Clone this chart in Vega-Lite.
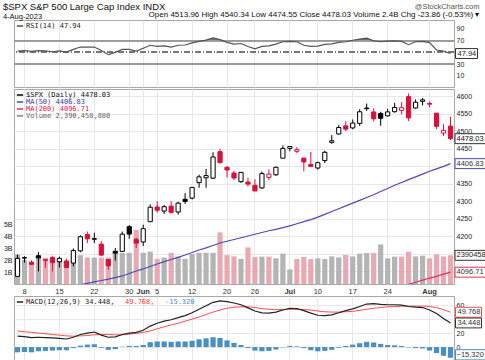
{
"$schema": "https://vega.github.io/schema/vega-lite/v6.json",
"padding": {"top": 2, "left": 2, "right": 2, "bottom": 0},
"background": "white",
"config": {
  "font": "Liberation Sans",
  "view": {"stroke": "#a8a8a8"},
  "axis": {"labelFontSize": 7, "labelColor": "#222", "ticks": false, "domain": false, "labelPadding": 2, "gridColor": "#e8e8e8", "gridWidth": 1, "title": null, "labelOverlap": false, "labelAngle": 0},
  "legend": {"orient": "top-left", "offset": 2, "padding": 0, "rowPadding": 0, "labelFont": "DejaVu Sans Mono", "labelFontSize": 7, "labelColor": "#222", "symbolType": "stroke", "symbolSize": 40, "symbolStrokeWidth": 1.5, "labelOffset": 2}
},
"title": {"text": "$SPX S&P 500 Large Cap Index INDX", "subtitle": "4-Aug-2023", "anchor": "start", "frame": "bounds", "offset": -18, "fontSize": 9.5, "fontWeight": "normal", "subtitleFontSize": 7.5, "subtitlePadding": 1, "color": "#111", "subtitleColor": "#111"},
"data": {"values": [
{"d":"2023-05-05","o":4084.73,"h":4147.02,"l":4084.73,"c":4136.25,"dir":"up","v":2.47,"ma50":4033,"rsi":52,"ob":70,"macd":15.5,"sig":23,"hist":-7.5},
{"d":"2023-05-08","o":4136.98,"h":4142.30,"l":4123.81,"c":4138.12,"dir":"up","v":2.0,"ma50":4036,"rsi":53,"ob":70,"macd":15,"sig":22,"hist":-7},
{"d":"2023-05-09","o":4124.25,"h":4130.35,"l":4116.65,"c":4119.17,"dir":"down","v":1.9,"ma50":4039,"rsi":51.5,"ob":70,"macd":13.5,"sig":21,"hist":-7.5},
{"d":"2023-05-10","o":4143.74,"h":4154.28,"l":4098.92,"c":4137.64,"dir":"up","v":2.3,"ma50":4041,"rsi":53,"ob":70,"macd":14,"sig":20,"hist":-6},
{"d":"2023-05-11","o":4132.24,"h":4132.80,"l":4109.29,"c":4130.62,"dir":"down","v":2.2,"ma50":4044,"rsi":52.5,"ob":70,"macd":13.5,"sig":19,"hist":-5.5},
{"d":"2023-05-12","o":4138.54,"h":4143.74,"l":4099.12,"c":4124.08,"dir":"down","v":1.9,"ma50":4047,"rsi":51,"ob":70,"macd":13,"sig":18,"hist":-5},
{"d":"2023-05-15","o":4126.65,"h":4141.25,"l":4110.27,"c":4136.28,"dir":"up","v":1.9,"ma50":4050,"rsi":52.5,"ob":70,"macd":12.5,"sig":17,"hist":-4.5},
{"d":"2023-05-16","o":4127.95,"h":4135.54,"l":4109.86,"c":4109.90,"dir":"down","v":2.0,"ma50":4053,"rsi":50.5,"ob":70,"macd":11.5,"sig":16,"hist":-4.5},
{"d":"2023-05-17","o":4122.85,"h":4164.67,"l":4113.62,"c":4158.77,"dir":"up","v":2.4,"ma50":4057,"rsi":55,"ob":70,"macd":14,"sig":15.5,"hist":-1.5},
{"d":"2023-05-18","o":4157.68,"h":4202.20,"l":4153.50,"c":4198.05,"dir":"up","v":2.4,"ma50":4061,"rsi":59,"ob":70,"macd":18,"sig":16,"hist":2},
{"d":"2023-05-19","o":4204.15,"h":4212.91,"l":4180.20,"c":4191.98,"dir":"down","v":2.2,"ma50":4065,"rsi":59,"ob":70,"macd":20,"sig":16.5,"hist":3.5},
{"d":"2023-05-22","o":4190.78,"h":4209.22,"l":4179.68,"c":4192.63,"dir":"up","v":2.2,"ma50":4069,"rsi":59,"ob":70,"macd":21.5,"sig":17.5,"hist":4},
{"d":"2023-05-23","o":4176.80,"h":4185.68,"l":4142.54,"c":4145.58,"dir":"down","v":2.2,"ma50":4073,"rsi":53,"ob":70,"macd":17,"sig":18,"hist":-1},
{"d":"2023-05-24","o":4132.96,"h":4132.96,"l":4103.98,"c":4115.24,"dir":"down","v":2.2,"ma50":4077,"rsi":46,"ob":70,"macd":14,"sig":18,"hist":-4},
{"d":"2023-05-25","o":4155.71,"h":4165.74,"l":4129.73,"c":4151.28,"dir":"up","v":2.8,"ma50":4081,"rsi":50,"ob":70,"macd":14.5,"sig":17.5,"hist":-3},
{"d":"2023-05-26","o":4156.16,"h":4212.87,"l":4156.16,"c":4205.45,"dir":"up","v":2.6,"ma50":4086,"rsi":55,"ob":70,"macd":18,"sig":17.5,"hist":0.5},
{"d":"2023-05-30","o":4226.71,"h":4231.10,"l":4192.18,"c":4205.52,"dir":"up","v":2.6,"ma50":4093,"rsi":55,"ob":70,"macd":20,"sig":18.5,"hist":1.5},
{"d":"2023-05-31","o":4190.74,"h":4195.44,"l":4166.15,"c":4179.83,"dir":"down","v":4.5,"ma50":4100,"rsi":52,"ob":70,"macd":21,"sig":19.5,"hist":1.5},
{"d":"2023-06-01","o":4183.03,"h":4232.43,"l":4171.64,"c":4221.02,"dir":"up","v":2.6,"ma50":4106,"rsi":57,"ob":70,"macd":24,"sig":21,"hist":3},
{"d":"2023-06-02","o":4241.01,"h":4290.67,"l":4241.01,"c":4282.37,"dir":"up","v":2.7,"ma50":4113,"rsi":62,"ob":70,"macd":30,"sig":23,"hist":7},
{"d":"2023-06-05","o":4282.99,"h":4299.28,"l":4266.82,"c":4273.79,"dir":"down","v":2.1,"ma50":4120,"rsi":60,"ob":70,"macd":34,"sig":26,"hist":8},
{"d":"2023-06-06","o":4271.34,"h":4288.33,"l":4263.09,"c":4283.85,"dir":"up","v":2.2,"ma50":4127,"rsi":61,"ob":70,"macd":37,"sig":29,"hist":8},
{"d":"2023-06-07","o":4285.47,"h":4299.19,"l":4263.96,"c":4267.52,"dir":"down","v":2.6,"ma50":4133,"rsi":59,"ob":70,"macd":39,"sig":31.5,"hist":7.5},
{"d":"2023-06-08","o":4268.69,"h":4298.01,"l":4261.07,"c":4293.93,"dir":"up","v":2.3,"ma50":4139,"rsi":62,"ob":70,"macd":42,"sig":34,"hist":8},
{"d":"2023-06-09","o":4304.88,"h":4322.62,"l":4291.70,"c":4298.86,"dir":"up","v":2.1,"ma50":4146,"rsi":62.5,"ob":70,"macd":45,"sig":37,"hist":8},
{"d":"2023-06-12","o":4308.32,"h":4340.13,"l":4304.37,"c":4338.93,"dir":"up","v":2.5,"ma50":4153,"rsi":66,"ob":70,"macd":49,"sig":40,"hist":9},
{"d":"2023-06-13","o":4352.61,"h":4375.37,"l":4337.66,"c":4369.01,"dir":"up","v":2.6,"ma50":4160,"rsi":68.5,"ob":70,"macd":54,"sig":43,"hist":11},
{"d":"2023-06-14","o":4366.29,"h":4391.82,"l":4337.85,"c":4372.59,"dir":"up","v":2.6,"ma50":4166,"rsi":70.8,"ob":70.8,"macd":59,"sig":46.5,"hist":12.5},
{"d":"2023-06-15","o":4365.33,"h":4439.20,"l":4362.60,"c":4425.84,"dir":"up","v":2.6,"ma50":4173,"rsi":74.5,"ob":74.5,"macd":64,"sig":50,"hist":14},
{"d":"2023-06-16","o":4440.95,"h":4448.47,"l":4407.44,"c":4409.59,"dir":"down","v":4.3,"ma50":4180,"rsi":71.5,"ob":71.5,"macd":66,"sig":53,"hist":13},
{"d":"2023-06-20","o":4396.11,"h":4400.15,"l":4367.19,"c":4388.71,"dir":"down","v":2.4,"ma50":4185,"rsi":67,"ob":70,"macd":65,"sig":55.5,"hist":9.5},
{"d":"2023-06-21","o":4380.01,"h":4386.22,"l":4360.14,"c":4365.69,"dir":"down","v":2.3,"ma50":4190,"rsi":64,"ob":70,"macd":63,"sig":57,"hist":6},
{"d":"2023-06-22","o":4355.40,"h":4382.25,"l":4351.82,"c":4381.89,"dir":"up","v":2.1,"ma50":4195,"rsi":65,"ob":70,"macd":60.5,"sig":57.5,"hist":3},
{"d":"2023-06-23","o":4354.17,"h":4366.55,"l":4341.34,"c":4348.33,"dir":"down","v":3.05,"ma50":4200,"rsi":60,"ob":70,"macd":56,"sig":57.5,"hist":-1.5},
{"d":"2023-06-26","o":4344.84,"h":4362.06,"l":4328.08,"c":4328.82,"dir":"down","v":2.25,"ma50":4205,"rsi":56,"ob":70,"macd":51.5,"sig":56.5,"hist":-5},
{"d":"2023-06-27","o":4337.36,"h":4384.42,"l":4335.00,"c":4378.41,"dir":"up","v":2.28,"ma50":4210,"rsi":60,"ob":70,"macd":49,"sig":55,"hist":-6},
{"d":"2023-06-28","o":4367.48,"h":4390.35,"l":4360.22,"c":4376.86,"dir":"down","v":2.28,"ma50":4215,"rsi":61,"ob":70,"macd":48.5,"sig":54,"hist":-5.5},
{"d":"2023-06-29","o":4374.94,"h":4398.39,"l":4371.97,"c":4396.44,"dir":"up","v":2.14,"ma50":4219,"rsi":64,"ob":70,"macd":50,"sig":53.5,"hist":-3.5},
{"d":"2023-06-30","o":4422.44,"h":4458.48,"l":4422.44,"c":4450.38,"dir":"up","v":2.53,"ma50":4224,"rsi":68,"ob":70,"macd":53,"sig":53.5,"hist":-0.5},
{"d":"2023-07-03","o":4450.48,"h":4456.46,"l":4442.29,"c":4455.59,"dir":"up","v":1.22,"ma50":4229,"rsi":68.5,"ob":70,"macd":55.5,"sig":54,"hist":1.5},
{"d":"2023-07-05","o":4442.04,"h":4454.06,"l":4436.61,"c":4446.82,"dir":"down","v":2.08,"ma50":4235,"rsi":68,"ob":70,"macd":55,"sig":54,"hist":1},
{"d":"2023-07-06","o":4422.62,"h":4422.62,"l":4385.05,"c":4411.59,"dir":"down","v":2.25,"ma50":4241,"rsi":62,"ob":70,"macd":52,"sig":53.5,"hist":-1.5},
{"d":"2023-07-07","o":4404.54,"h":4440.39,"l":4397.40,"c":4398.95,"dir":"down","v":2.08,"ma50":4247,"rsi":60,"ob":70,"macd":48.5,"sig":53,"hist":-4.5},
{"d":"2023-07-10","o":4394.23,"h":4412.60,"l":4389.92,"c":4409.53,"dir":"up","v":2.14,"ma50":4254,"rsi":60.5,"ob":70,"macd":45.5,"sig":51.5,"hist":-6},
{"d":"2023-07-11","o":4415.55,"h":4443.64,"l":4408.46,"c":4439.26,"dir":"up","v":2.08,"ma50":4262,"rsi":63.5,"ob":70,"macd":45,"sig":50.5,"hist":-5.5},
{"d":"2023-07-12","o":4467.69,"h":4488.34,"l":4463.23,"c":4472.16,"dir":"up","v":2.3,"ma50":4270,"rsi":64.5,"ob":70,"macd":46,"sig":50,"hist":-4},
{"d":"2023-07-13","o":4491.50,"h":4517.38,"l":4489.36,"c":4510.04,"dir":"up","v":2.22,"ma50":4278,"rsi":67,"ob":70,"macd":49,"sig":50,"hist":-1},
{"d":"2023-07-14","o":4514.61,"h":4527.76,"l":4499.56,"c":4505.42,"dir":"down","v":2.42,"ma50":4286,"rsi":68,"ob":70,"macd":52,"sig":50.5,"hist":1.5},
{"d":"2023-07-17","o":4508.86,"h":4532.85,"l":4504.90,"c":4522.79,"dir":"up","v":2.3,"ma50":4294,"rsi":70.5,"ob":70.5,"macd":54.5,"sig":51,"hist":3.5},
{"d":"2023-07-18","o":4521.78,"h":4562.30,"l":4514.59,"c":4554.98,"dir":"up","v":2.53,"ma50":4302,"rsi":72.5,"ob":72.5,"macd":58,"sig":52.5,"hist":5.5},
{"d":"2023-07-19","o":4563.87,"h":4578.43,"l":4557.48,"c":4565.72,"dir":"up","v":2.58,"ma50":4310,"ma200":4027,"rsi":74,"ob":74,"macd":61.5,"sig":54,"hist":7.5},
{"d":"2023-07-20","o":4554.38,"h":4564.74,"l":4527.56,"c":4534.87,"dir":"down","v":2.58,"ma50":4318,"ma200":4033,"rsi":69.5,"ob":70,"macd":62,"sig":55.5,"hist":6.5},
{"d":"2023-07-21","o":4550.16,"h":4555.00,"l":4514.96,"c":4536.34,"dir":"up","v":3.3,"ma50":4327,"ma200":4039,"rsi":68,"ob":70,"macd":61,"sig":56.5,"hist":4.5},
{"d":"2023-07-24","o":4543.39,"h":4563.41,"l":4541.29,"c":4554.64,"dir":"up","v":2.14,"ma50":4336,"ma200":4045,"rsi":69,"ob":70,"macd":60.5,"sig":57.5,"hist":3},
{"d":"2023-07-25","o":4555.19,"h":4580.62,"l":4552.42,"c":4567.46,"dir":"up","v":2.28,"ma50":4345,"ma200":4051,"rsi":69.5,"ob":70,"macd":60.5,"sig":58,"hist":2.5},
{"d":"2023-07-26","o":4558.96,"h":4582.47,"l":4547.58,"c":4566.75,"dir":"down","v":2.28,"ma50":4353,"ma200":4057,"rsi":68.5,"ob":70,"macd":60,"sig":58.5,"hist":1.5},
{"d":"2023-07-27","o":4598.26,"h":4607.07,"l":4528.56,"c":4537.41,"dir":"down","v":2.69,"ma50":4361,"ma200":4062,"rsi":63,"ob":70,"macd":58,"sig":58.5,"hist":-0.5},
{"d":"2023-07-28","o":4565.75,"h":4590.16,"l":4564.01,"c":4582.23,"dir":"up","v":2.3,"ma50":4369,"ma200":4068,"rsi":68,"ob":70,"macd":57,"sig":58.5,"hist":-1.5},
{"d":"2023-07-31","o":4584.82,"h":4594.22,"l":4573.14,"c":4588.96,"dir":"up","v":2.36,"ma50":4377,"ma200":4074,"rsi":68.5,"ob":70,"macd":56.5,"sig":58.5,"hist":-2},
{"d":"2023-08-01","o":4578.83,"h":4584.62,"l":4567.53,"c":4576.73,"dir":"down","v":2.14,"ma50":4385,"ma200":4080,"rsi":66.5,"ob":70,"macd":53,"sig":58,"hist":-5},
{"d":"2023-08-02","o":4550.93,"h":4550.93,"l":4505.75,"c":4513.39,"dir":"down","v":2.47,"ma50":4392,"ma200":4085,"rsi":54,"ob":70,"macd":48,"sig":56.5,"hist":-8.5},
{"d":"2023-08-03","o":4494.27,"h":4519.49,"l":4485.54,"c":4501.89,"dir":"down","v":2.3,"ma50":4399,"ma200":4091,"rsi":52,"ob":70,"macd":41,"sig":53.5,"hist":-12.5},
{"d":"2023-08-04","o":4513.96,"h":4540.34,"l":4474.55,"c":4478.03,"dir":"down","v":2.39,"ma50":4406.83,"ma200":4096.71,"rsi":47.94,"ob":70,"macd":34.448,"sig":49.768,"hist":-15.32}
]},
"spacing": 0,
"resolve": {"scale": {"color": "independent"}, "legend": {"color": "independent"}},
"vconcat": [
{
  "width": 440, "height": 67,
  "title": {"text": "@StockCharts.com", "subtitle": "Open 4513.96  High 4540.34  Low 4474.55  Close 4478.03  Volume 2.4B  Chg -23.86 (-0.53%) ▾", "anchor": "end", "frame": "bounds", "fontSize": 7.5, "fontWeight": "normal", "color": "#555", "subtitleFontSize": 8, "subtitleColor": "#111", "subtitlePadding": 1, "offset": 1},
  "resolve": {"scale": {"y": "independent"}, "axis": {"y": "independent"}},
  "layer": [
    {"mark": {"type": "area", "color": "#44694a", "opacity": 0.85},
     "encoding": {
       "x": {"field": "d", "type": "ordinal", "scale": {"type": "band", "paddingInner": 0, "paddingOuter": 0},
             "axis": {"labels": false, "grid": true, "bandPosition": 0.5, "values": ["2023-05-08","2023-05-15","2023-05-22","2023-05-30","2023-06-01","2023-06-05","2023-06-12","2023-06-20","2023-06-26","2023-07-03","2023-07-10","2023-07-17","2023-07-24","2023-08-01"]}},
       "y": {"field": "ob", "type": "quantitative", "scale": {"domain": [-9, 105], "nice": false, "zero": false}, "axis": {"orient": "right", "values": [10, 30, 70, 90], "grid": false, "labelOverlap": false}},
       "y2": {"datum": 70}}},
    {"mark": {"type": "rule", "color": "#9a9a9a"}, "encoding": {"y": {"datum": 70, "scale": {"domain": [-9, 105], "nice": false, "zero": false}, "axis": null}}},
    {"mark": {"type": "rule", "color": "#9a9a9a"}, "encoding": {"y": {"datum": 30, "scale": {"domain": [-9, 105], "nice": false, "zero": false}, "axis": null}}},
    {"mark": {"type": "rule", "color": "#777", "strokeDash": [6, 2, 1, 2]}, "encoding": {"y": {"datum": 50, "scale": {"domain": [-9, 105], "nice": false, "zero": false}, "axis": null}}},
    {"mark": {"type": "line", "strokeWidth": 1.2},
     "encoding": {
       "x": {"field": "d", "type": "ordinal"},
       "y": {"field": "rsi", "type": "quantitative", "scale": {"domain": [-9, 105], "nice": false, "zero": false}, "axis": null},
       "color": {"datum": "RSI(14) 47.94", "type": "nominal", "scale": {"range": ["#555"]}, "legend": {"title": null}}}},
    {"transform": [{"filter": "datum.d == '2023-08-04'"}],
     "mark": {"type": "point", "shape": "M-1,-0.45H1V0.45H-1Z", "size": 484, "filled": true, "fill": "white", "stroke": "#333", "strokeWidth": 1, "opacity": 1, "xOffset": 16},
     "encoding": {"x": {"field": "d", "type": "ordinal"}, "y": {"field": "rsi", "type": "quantitative", "scale": {"domain": [-9, 105], "nice": false, "zero": false}, "axis": null}}},
    {"transform": [{"filter": "datum.d == '2023-08-04'"}],
     "mark": {"type": "text", "align": "left", "dx": 7, "fontSize": 7.5, "color": "#222"},
     "encoding": {"x": {"field": "d", "type": "ordinal"}, "y": {"field": "rsi", "type": "quantitative", "scale": {"domain": [-9, 105], "nice": false, "zero": false}, "axis": null}, "text": {"field": "rsi", "format": ".2f"}}}
  ]
},
{
  "width": 440, "height": 195,
  "resolve": {"scale": {"y": "independent"}, "axis": {"y": "independent"}},
  "encoding": {
    "x": {"field": "d", "type": "ordinal", "scale": {"type": "band", "paddingInner": 0, "paddingOuter": 0},
          "axis": {"grid": true, "bandPosition": 0.5, "labelFontSize": 7.5, "labelColor": "#333", "labelPadding": 3, "labelOverlap": false,
                   "values": ["2023-05-08","2023-05-15","2023-05-22","2023-05-30","2023-06-01","2023-06-05","2023-06-12","2023-06-20","2023-06-26","2023-07-03","2023-07-10","2023-07-17","2023-07-24","2023-08-01"],
                   "labelExpr": "datum.value == '2023-06-01' ? 'Jun' : datum.value == '2023-07-03' ? 'Jul' : datum.value == '2023-08-01' ? 'Aug' : '' + toNumber(slice(datum.value, 8))",
                   "labelFontWeight": {"condition": {"test": "datum.value == '2023-06-01' || datum.value == '2023-07-03' || datum.value == '2023-08-01'", "value": "bold"}, "value": "normal"}}}
  },
  "layer": [
    {"mark": {"type": "bar", "width": {"band": 0.75}},
     "encoding": {
       "y": {"field": "v", "type": "quantitative", "scale": {"domain": [0, 16.25], "nice": false, "zero": false}, "axis": {"orient": "left", "values": [1, 2, 3, 4, 5], "labelExpr": "datum.value + 'B'", "grid": false, "labelOverlap": false}},
       "color": {"condition": {"test": "datum.dir == 'down'", "value": "#e9a9b2"}, "value": "#b4b4b4"}}},
    {"mark": {"type": "line", "strokeWidth": 1.2, "clip": true},
     "encoding": {
       "y": {"field": "ma200", "type": "quantitative", "scale": {"domain": [4063, 4620], "nice": false, "zero": false},
             "axis": {"orient": "right", "grid": true, "labelOverlap": false, "values": [4100, 4150, 4200, 4250, 4300, 4350, 4400, 4450, 4500, 4550, 4600], "labelExpr": "(datum.value == 4400 || datum.value < 4200) ? '' : datum.label", "format": "d"}},
       "color": {"datum": "MA(200) 4096.71", "type": "nominal",
                 "scale": {"domain": ["$SPX (Daily) 4478.03", "MA(50) 4406.83", "MA(200) 4096.71", "Volume 2,390,458,880"], "range": ["#000000", "#4a4ab8", "#e0305a", "#888888"]},
                 "legend": {"title": null, "labelColor": {"expr": "datum.value == 'MA(50) 4406.83' ? '#3a3ab0' : datum.value == 'MA(200) 4096.71' ? '#e0204a' : datum.value == 'Volume 2,390,458,880' ? '#666666' : '#111111'"}}}}},
    {"mark": {"type": "line", "strokeWidth": 1.2, "clip": true},
     "encoding": {"y": {"field": "ma50", "type": "quantitative", "scale": {"domain": [4063, 4620], "nice": false, "zero": false}, "axis": null}, "color": {"datum": "MA(50) 4406.83", "type": "nominal"}}},
    {"mark": {"type": "rule", "strokeWidth": 1},
     "encoding": {"y": {"field": "l", "type": "quantitative", "scale": {"domain": [4063, 4620], "nice": false, "zero": false}, "axis": null}, "y2": {"field": "h"},
                  "stroke": {"condition": {"test": "datum.dir == 'down'", "value": "#d8103c"}, "value": "#000000"}}},
    {"mark": {"type": "bar", "width": {"band": 0.6}, "strokeWidth": 1},
     "encoding": {"y": {"field": "o", "type": "quantitative", "scale": {"domain": [4063, 4620], "nice": false, "zero": false}, "axis": null}, "y2": {"field": "c"},
                  "fill": {"condition": [{"test": "datum.c > datum.o", "value": "white"}, {"test": "datum.dir == 'down'", "value": "#d8103c"}], "value": "#000000"},
                  "stroke": {"condition": {"test": "datum.dir == 'down'", "value": "#d8103c"}, "value": "#000000"}}},
    {"transform": [{"filter": "datum.d == '2023-08-04'"}],
     "mark": {"type": "point", "shape": "M-1,-0.32H1V0.32H-1Z", "size": 961, "filled": true, "fill": "white", "stroke": "#333", "strokeWidth": 1, "opacity": 1, "xOffset": 20},
     "encoding": {"y": {"field": "v", "type": "quantitative", "scale": {"domain": [0, 16.25], "nice": false, "zero": false}, "axis": null}}},
    {"transform": [{"filter": "datum.d == '2023-08-04'"}],
     "mark": {"type": "text", "align": "left", "dx": 6, "fontSize": 7.5, "color": "#222"},
     "encoding": {"y": {"field": "v", "type": "quantitative", "scale": {"domain": [0, 16.25], "nice": false, "zero": false}, "axis": null}, "text": {"value": "2390458"}}},
    {"transform": [{"filter": "datum.d == '2023-08-04'"}],
     "mark": {"type": "point", "shape": "M-1,-0.32H1V0.32H-1Z", "size": 961, "filled": true, "fill": "white", "stroke": "#333", "strokeWidth": 1, "opacity": 1, "xOffset": 20},
     "encoding": {"y": {"field": "c", "type": "quantitative", "scale": {"domain": [4063, 4620], "nice": false, "zero": false}, "axis": null}}},
    {"transform": [{"filter": "datum.d == '2023-08-04'"}],
     "mark": {"type": "text", "align": "left", "dx": 6, "fontSize": 7.5, "color": "#111"},
     "encoding": {"y": {"field": "c", "type": "quantitative", "scale": {"domain": [4063, 4620], "nice": false, "zero": false}, "axis": null}, "text": {"field": "c", "format": ".2f"}}},
    {"transform": [{"filter": "datum.d == '2023-08-04'"}],
     "mark": {"type": "point", "shape": "M-1,-0.32H1V0.32H-1Z", "size": 961, "filled": true, "fill": "white", "stroke": "#4a4ab8", "strokeWidth": 1, "opacity": 1, "xOffset": 20},
     "encoding": {"y": {"field": "ma50", "type": "quantitative", "scale": {"domain": [4063, 4620], "nice": false, "zero": false}, "axis": null}}},
    {"transform": [{"filter": "datum.d == '2023-08-04'"}],
     "mark": {"type": "text", "align": "left", "dx": 6, "fontSize": 7.5, "color": "#333"},
     "encoding": {"y": {"field": "ma50", "type": "quantitative", "scale": {"domain": [4063, 4620], "nice": false, "zero": false}, "axis": null}, "text": {"field": "ma50", "format": ".2f"}}},
    {"transform": [{"filter": "datum.d == '2023-08-04'"}],
     "mark": {"type": "point", "shape": "M-1,-0.32H1V0.32H-1Z", "size": 961, "filled": true, "fill": "white", "stroke": "#e0305a", "strokeWidth": 1, "opacity": 1, "xOffset": 20},
     "encoding": {"y": {"field": "ma200", "type": "quantitative", "scale": {"domain": [4063, 4620], "nice": false, "zero": false}, "axis": null}}},
    {"transform": [{"filter": "datum.d == '2023-08-04'"}],
     "mark": {"type": "text", "align": "left", "dx": 6, "fontSize": 7.5, "color": "#333"},
     "encoding": {"y": {"field": "ma200", "type": "quantitative", "scale": {"domain": [4063, 4620], "nice": false, "zero": false}, "axis": null}, "text": {"field": "ma200", "format": ".2f"}}}
  ]
},
{
  "width": 440, "height": 64,
  "resolve": {"scale": {"y": "independent"}, "axis": {"y": "independent"}},
  "encoding": {
    "x": {"field": "d", "type": "ordinal", "scale": {"type": "band", "paddingInner": 0, "paddingOuter": 0},
          "axis": {"labels": false, "grid": true, "bandPosition": 0.5, "values": ["2023-05-08","2023-05-15","2023-05-22","2023-05-30","2023-06-01","2023-06-05","2023-06-12","2023-06-20","2023-06-26","2023-07-03","2023-07-10","2023-07-17","2023-07-24","2023-08-01"]}}
  },
  "layer": [
    {"mark": {"type": "bar", "width": {"band": 0.75}},
     "encoding": {
       "y": {"field": "hist", "type": "quantitative", "scale": {"domain": [-18.5, 73], "nice": false, "zero": false},
             "axis": {"orient": "right", "values": [0, 20, 40, 60], "labelExpr": "datum.value == 40 ? '' : datum.label", "grid": true, "labelOverlap": false}},
       "y2": {"datum": 0},
       "color": {"datum": "hist", "type": "nominal", "scale": {"domain": ["macd", "sig", "hist"], "range": ["#222222", "#ff4b4b", "#4a8fc1"]},
                 "legend": {"title": null, "direction": "horizontal", "columnPadding": 0,
                            "labelExpr": "datum.value == 'macd' ? 'MACD(12,26,9) 34.448,' : datum.value == 'sig' ? '49.768,' : '-15.320'",
                            "labelColor": {"expr": "datum.value == 'sig' ? '#ff3b3b' : datum.value == 'hist' ? '#4a8fc1' : '#222222'"},
                            "symbolOpacity": {"expr": "datum.value == 'macd' ? 1 : 0"}}}}},
    {"mark": {"type": "line", "strokeWidth": 1},
     "encoding": {"y": {"field": "sig", "type": "quantitative", "scale": {"domain": [-18.5, 73], "nice": false, "zero": false}, "axis": null}, "color": {"datum": "sig", "type": "nominal"}}},
    {"mark": {"type": "line", "strokeWidth": 1.2},
     "encoding": {"y": {"field": "macd", "type": "quantitative", "scale": {"domain": [-18.5, 73], "nice": false, "zero": false}, "axis": null}, "color": {"datum": "macd", "type": "nominal"}}},
    {"transform": [{"filter": "datum.d == '2023-08-04'"}],
     "mark": {"type": "point", "shape": "M-1,-0.38H1V0.38H-1Z", "size": 676, "filled": true, "fill": "white", "stroke": "#ff4b4b", "strokeWidth": 1, "opacity": 1, "xOffset": 18},
     "encoding": {"y": {"field": "sig", "type": "quantitative", "scale": {"domain": [-18.5, 73], "nice": false, "zero": false}, "axis": null}}},
    {"transform": [{"filter": "datum.d == '2023-08-04'"}],
     "mark": {"type": "text", "align": "left", "dx": 7, "fontSize": 7.5, "color": "#333"},
     "encoding": {"y": {"field": "sig", "type": "quantitative", "scale": {"domain": [-18.5, 73], "nice": false, "zero": false}, "axis": null}, "text": {"field": "sig", "format": ".3f"}}},
    {"transform": [{"filter": "datum.d == '2023-08-04'"}],
     "mark": {"type": "point", "shape": "M-1,-0.38H1V0.38H-1Z", "size": 676, "filled": true, "fill": "white", "stroke": "#333", "strokeWidth": 1, "opacity": 1, "xOffset": 18},
     "encoding": {"y": {"field": "macd", "type": "quantitative", "scale": {"domain": [-18.5, 73], "nice": false, "zero": false}, "axis": null}}},
    {"transform": [{"filter": "datum.d == '2023-08-04'"}],
     "mark": {"type": "text", "align": "left", "dx": 7, "fontSize": 7.5, "color": "#333"},
     "encoding": {"y": {"field": "macd", "type": "quantitative", "scale": {"domain": [-18.5, 73], "nice": false, "zero": false}, "axis": null}, "text": {"field": "macd", "format": ".3f"}}},
    {"transform": [{"filter": "datum.d == '2023-08-04'"}],
     "mark": {"type": "point", "shape": "M-1,-0.34H1V0.34H-1Z", "size": 900, "filled": true, "fill": "white", "stroke": "#4a8fc1", "strokeWidth": 1, "opacity": 1, "xOffset": 20, "yOffset": -3},
     "encoding": {"y": {"field": "hist", "type": "quantitative", "scale": {"domain": [-18.5, 73], "nice": false, "zero": false}, "axis": null}}},
    {"transform": [{"filter": "datum.d == '2023-08-04'"}],
     "mark": {"type": "text", "align": "left", "dx": 6, "dy": -3, "fontSize": 7.5, "color": "#333"},
     "encoding": {"y": {"field": "hist", "type": "quantitative", "scale": {"domain": [-18.5, 73], "nice": false, "zero": false}, "axis": null}, "text": {"field": "hist", "format": ".3f"}}}
  ]
}
]
}
